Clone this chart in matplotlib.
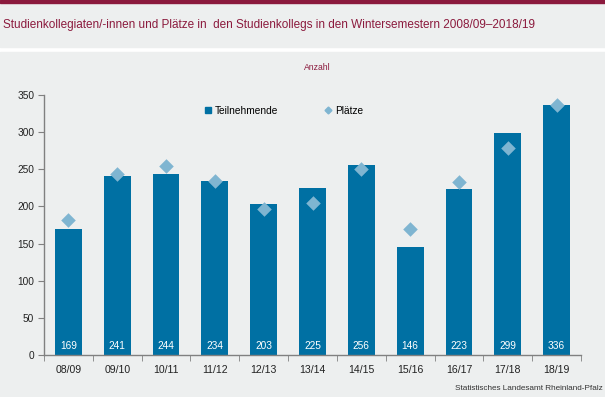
import matplotlib
matplotlib.use("Agg")
import matplotlib.pyplot as plt
from matplotlib.patches import Rectangle
from matplotlib.lines import Line2D
import numpy as np

categories = ["08/09", "09/10", "10/11", "11/12", "12/13", "13/14", "14/15", "15/16", "16/17", "17/18", "18/19"]
teilnehmende = [169, 241, 244, 234, 203, 225, 256, 146, 223, 299, 336]
plaetze = [182, 243, 255, 234, 197, 205, 251, 170, 233, 278, 336]
yticks = [0, 50, 100, 150, 200, 250, 300, 350]

W, H = 605, 397
bg = "#EDEFEF"
maroon = "#8B1A3D"
bar_c = "#0070A3"
dia_c = "#7FB5D1"
axis_c = "#808080"

plt.rcParams['font.family'] = ['Liberation Sans', 'DejaVu Sans']
fig = plt.figure(figsize=(W/100, H/100), dpi=100)
fig.patch.set_facecolor("white")

# background panels
fig.add_artist(Rectangle((0, 1 - 47/H), 1, 47/H, transform=fig.transFigure, color=bg, zorder=0))
fig.add_artist(Rectangle((0, 0), 1, 1 - 52/H, transform=fig.transFigure, color=bg, zorder=0))
fig.add_artist(Rectangle((0, 1 - 2.5/H), 1, 2.5/H, transform=fig.transFigure, color=maroon, zorder=1))

fig.text(3/W, 1 - 25/H, "Studienkollegiaten/-innen und Plätze in  den Studienkollegs in den Wintersemestern 2008/09\u20132018/19",
         color=maroon, fontsize=8.5, va="center", ha="left")
fig.text(317/W, 1 - 67/H, "Anzahl", color=maroon, fontsize=6.2, va="center", ha="center")
fig.text(603/W, 1 - 389/H, "Statistisches Landesamt Rheinland-Pfalz", color="#333333", fontsize=5.9,
         va="center", ha="right")

x0, x1 = 44, 581
y0, y1 = 355, 95
ax = fig.add_axes([x0/W, 1 - y0/H, (x1 - x0)/W, (y0 - y1)/H])
ax.set_facecolor("none")
n = len(categories)
x = np.arange(n)
ax.bar(x, teilnehmende, width=0.55, color=bar_c, zorder=2, label="Teilnehmende")
ax.scatter(x, plaetze, marker="D", s=55, color=dia_c, zorder=3, linewidths=0, label="Plätze")
for xi, v in zip(x, teilnehmende):
    ax.text(xi, 11.5, str(v), color="white", ha="center", va="center", fontsize=7.3, zorder=4)

ax.set_xlim(-0.5, n - 0.5)
ax.set_ylim(0, 350)
ax.set_yticks(yticks)
ax.set_yticklabels([str(t) for t in yticks], fontsize=7.3, color="#222222")
ax.set_xticks(x)
ax.set_xticklabels(categories, fontsize=7.6, color="#222222")
ax.tick_params(axis="x", length=0, pad=7)
ax.set_xticks(np.arange(-0.5, n, 1), minor=True)
ax.tick_params(axis="x", which="minor", length=4, color=axis_c, direction="out")
ax.tick_params(axis="y", length=4, color=axis_c, direction="out", pad=3)
for s in ["top", "right"]:
    ax.spines[s].set_visible(False)
for s in ["left", "bottom"]:
    ax.spines[s].set_color(axis_c)
    ax.spines[s].set_linewidth(1.0)

handles = [Line2D([0], [0], marker="s", linestyle="none", color=bar_c, markersize=5),
           Line2D([0], [0], marker="D", linestyle="none", color=dia_c, markersize=3.5)]
leg = fig.legend(handles, ["Teilnehmende", "Plätze"], loc="center left",
                 bbox_to_anchor=(196/W, 1 - 111/H), ncol=2, frameon=False, fontsize=7.3,
                 handlelength=0.6, handletextpad=0.4, columnspacing=4.6)

fig.savefig("out.png", dpi=100, facecolor=fig.get_facecolor())
